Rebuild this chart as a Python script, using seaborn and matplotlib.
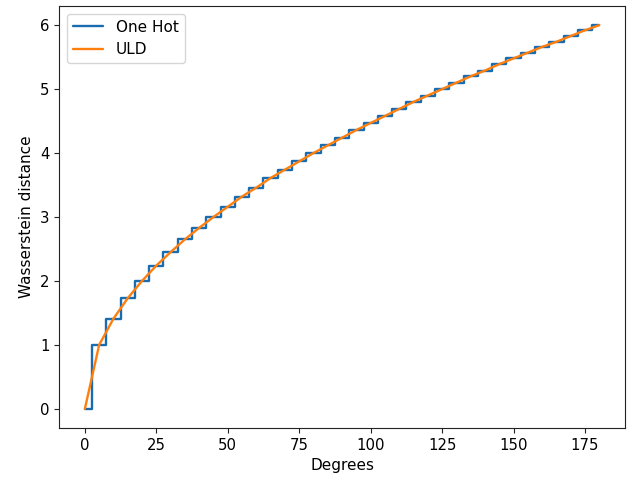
import matplotlib
matplotlib.use("Agg")
import matplotlib.pyplot as plt
import seaborn as sns
import pandas as pd

degrees = [0, 5, 10, 15, 20, 25, 30, 35, 40, 45, 50, 55, 60, 65, 70, 75, 80, 85, 90,
           95, 100, 105, 110, 115, 120, 125, 130, 135, 140, 145, 150, 155, 160, 165,
           170, 175, 180]
one_hot = [0.00, 1.00, 1.41, 1.73, 2.00, 2.24, 2.45, 2.65, 2.83, 3.00, 3.16, 3.32,
           3.46, 3.61, 3.74, 3.87, 4.00, 4.12, 4.24, 4.36, 4.47, 4.58, 4.69, 4.80,
           4.90, 5.00, 5.10, 5.20, 5.29, 5.39, 5.48, 5.57, 5.66, 5.74, 5.83, 5.92, 6.00]
uld = [0.00, 1.00, 1.41, 1.73, 2.00, 2.24, 2.45, 2.65, 2.83, 3.00, 3.16, 3.32,
       3.46, 3.61, 3.74, 3.87, 4.00, 4.12, 4.24, 4.36, 4.47, 4.58, 4.69, 4.80,
       4.90, 5.00, 5.10, 5.20, 5.29, 5.39, 5.48, 5.57, 5.66, 5.74, 5.83, 5.92, 6.00]

df = pd.DataFrame({"Degrees": degrees, "One Hot": one_hot, "ULD": uld})

sns.set_style("ticks", {"axes.edgecolor": "#222222", "text.color": "black",
                        "xtick.color": "#222222", "ytick.color": "#222222",
                        "axes.labelcolor": "black"})
plt.rcParams['font.family'] = ['DejaVu Sans']
fig, ax = plt.subplots(figsize=(6.43, 4.79), dpi=100)
sns.lineplot(data=df, x="Degrees", y="One Hot", ax=ax, color="#1a6cb0",
             drawstyle="steps-mid", label="One Hot", linewidth=1.7)
sns.lineplot(data=df, x="Degrees", y="ULD", ax=ax, color="#ff7f0e",
             label="ULD", linewidth=1.7)
ax.set_xlabel("Degrees", fontsize=11)
ax.set_ylabel("Wasserstein distance", fontsize=11)
ax.set_xticks([0, 25, 50, 75, 100, 125, 150, 175])
ax.set_yticks([0, 1, 2, 3, 4, 5, 6])
ax.tick_params(labelsize=10.7, colors="black", color="#222222")
ax.legend(loc="upper left", fontsize=11)
fig.subplots_adjust(left=0.092, right=0.972, top=0.9875, bottom=0.1065)
fig.savefig("out.png", dpi=100)
